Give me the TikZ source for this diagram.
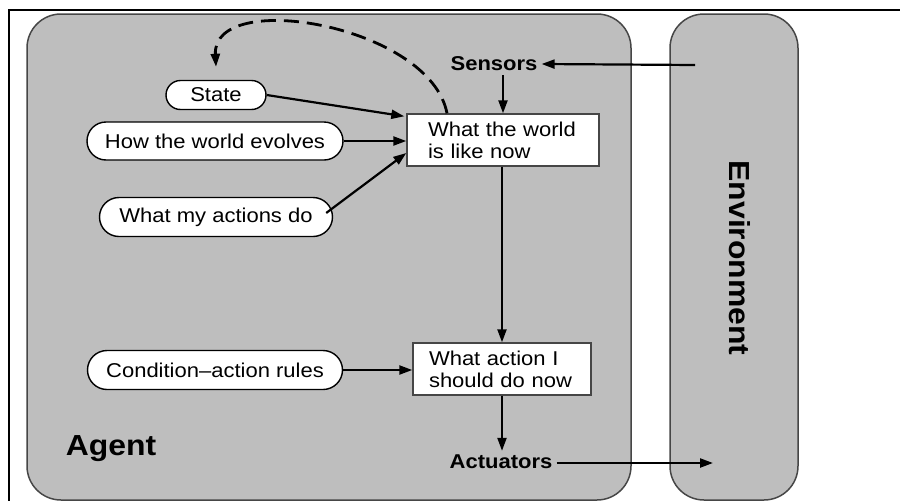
\documentclass[tikz,border=0pt]{standalone}
\usepackage{fontspec}
\setmainfont{Liberation Sans}[FakeStretch=1.1]
\usetikzlibrary{arrows.meta,shapes.misc}
\definecolor{panel}{RGB}{190,190,190}
\definecolor{edge}{RGB}{70,70,70}
\tikzset{
  panelbox/.style={draw=edge, line width=1.5pt, fill=panel},
  oval/.style={rounded rectangle, draw=black, line width=1.4pt, fill=white,
    inner sep=0pt, font=\fontsize{20}{22}\selectfont},
  infobox/.style={rectangle, draw=edge, line width=1.4pt, fill=white,
    minimum height=52pt, align=left, font=\fontsize{20}{22}\selectfont},
  lbl/.style={font=\bfseries\fontsize{20}{22}\selectfont, inner sep=4pt},
  big/.style={font=\bfseries\fontsize{29}{32}\selectfont, inner sep=0pt},
  flow/.style={line width=2.2pt, -{Triangle[length=13pt,width=9pt]}},
  loopback/.style={line width=2.8pt, dash pattern=on 15pt off 8pt,
    -{Triangle[length=13pt,width=9pt]}}
}
\begin{document}
\begin{tikzpicture}[x=1pt,y=-1pt]
\useasboundingbox (0,0) rectangle (900,501);
% outer frame
\draw[line width=1.5pt] (900,10) -- (9,10) -- (9,501);
% panels
\draw[panelbox, rounded corners=34pt] (27,14) rectangle (631,500);
\draw[panelbox, rounded corners=34pt] (670,14) rectangle (798,500);
\node[big] (agent) at (111,449) {Agent};
\node[big, rotate=-90] (env) at (740,258) {Environment};
% left ovals
\node[oval, minimum width=100pt, minimum height=29pt] (st) at (216,95) {State};
\node[oval, minimum width=256pt, minimum height=38pt] (how) at (215,141) {How the world evolves};
\node[oval, minimum width=233pt, minimum height=39pt] (act) at (216,217) {What my actions do};
\node[oval, minimum width=255pt, minimum height=39pt] (rul) at (215,370) {Condition--action rules};
% boxes
\node[infobox, minimum width=192pt, text width=150pt, inner xsep=21pt] (w1) at (503,140) {What the world\\is like now};
\node[infobox, minimum width=178pt, text width=146pt, inner xsep=16pt] (w2) at (502,369) {What action I\\should do now};
% sensor / actuator labels
\node[lbl] (sens) at (494,64) {Sensors};
\node[lbl] (actu) at (501,462) {Actuators};
\coordinate (senv) at (695,65);
\coordinate (aenv) at (713,463);
% connectors
\draw[flow] (senv) -- (sens.east);
\draw[flow] (w1.north |- sens.south) -- (w1.north);
\draw[flow] (st.east) -- ([xshift=-2pt,yshift=-3pt]w1.north west);
\draw[flow] (how.east) -- (how.east -| w1.west);
\draw[flow] ([xshift=-7pt,yshift=4pt]act.east) -- ([yshift=-13pt]w1.west);
\draw[flow] (rul.east) -- (rul.east -| w2.west);
\draw[flow] ([xshift=-1pt]w1.south) -- ([xshift=-1pt]w1.south |- w2.north);
\draw[flow] (w2.south) -- (w2.south |- actu.north);
\draw[flow] ([yshift=-1pt]actu.east) -- (aenv);
\draw[loopback] ([xshift=-56pt]w1.north) .. controls (430,25) and (212,-12) .. ([yshift=13pt]st.north);
\end{tikzpicture}
\end{document}
